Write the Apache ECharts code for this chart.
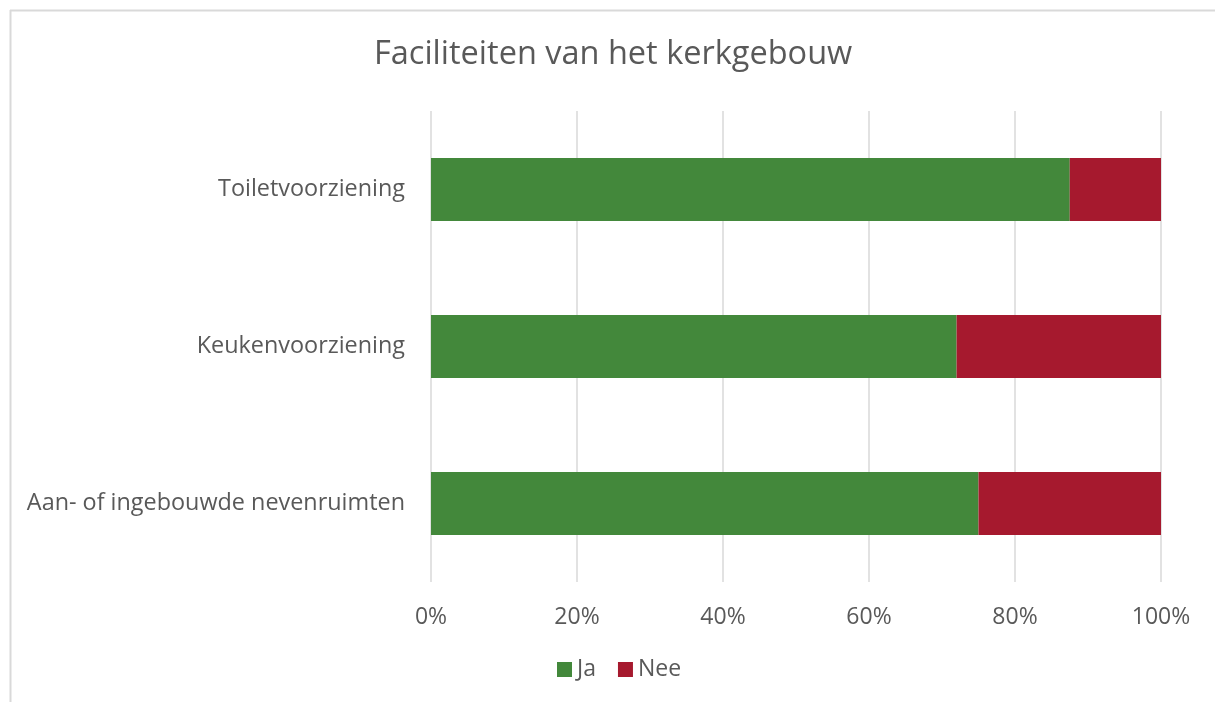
<!DOCTYPE html>
<html>
<head>
<meta charset="utf-8">
<script src="https://cdn.jsdelivr.net/npm/echarts@6/dist/echarts.min.js"></script>
<style>
  html, body { margin: 0; padding: 0; background: #fff; }
  #main { width: 1215px; height: 702px; }
</style>
</head>
<body>
<div id="main"></div>
<script>
const categories = ['Aan- of ingebouwde nevenruimten', 'Keukenvoorziening', 'Toiletvoorziening'];
const ja = [75, 72, 87.5];
const nee = [25, 28, 12.5];
const xTicks = [0, 20, 40, 60, 80, 100];

const myChart = echarts.init(document.getElementById('main'));
const font = 'Open Sans, Noto Sans, sans-serif';

const option = {
  backgroundColor: '#fff',
  textStyle: { fontFamily: font },
  title: {
    text: 'Faciliteiten van het kerkgebouw',
    left: 369,
    top: 33,
    textStyle: { fontSize: 32.5, fontWeight: 'normal', color: '#595959', fontFamily: font }
  },
  graphic: [
    { type: 'line', shape: { x1: 10, y1: 10.5, x2: 1215, y2: 10.5 }, style: { stroke: '#d9d9d9', lineWidth: 2 } },
    { type: 'line', shape: { x1: 10.5, y1: 10, x2: 10.5, y2: 702 }, style: { stroke: '#d9d9d9', lineWidth: 2 } }
  ],
  legend: {
    bottom: 16,
    left: 552,
    itemWidth: 15,
    itemHeight: 15,
    itemGap: 22,
    icon: 'rect',
    textStyle: { fontSize: 23, color: '#595959', fontFamily: font },
    data: ['Ja', 'Nee']
  },
  grid: { left: 431, right: 54, top: 111, bottom: 120, containLabel: false },
  xAxis: {
    type: 'value',
    min: 0,
    max: 100,
    interval: 20,
    axisLine: { show: false },
    axisTick: { show: false },
    axisLabel: {
      formatter: (v) => xTicks.includes(v) ? v + '%' : '',
      fontSize: 23,
      color: '#595959',
      margin: 24
    },
    splitLine: { lineStyle: { color: '#d9d9d9', width: 1.5 } }
  },
  yAxis: {
    type: 'category',
    data: categories,
    axisLine: { show: false },
    axisTick: { show: false },
    axisLabel: { fontSize: 23.4, color: '#595959', margin: 26 }
  },
  series: [
    {
      name: 'Ja',
      type: 'bar',
      stack: 'total',
      barWidth: '40%',
      itemStyle: { color: '#43883b' },
      data: ja
    },
    {
      name: 'Nee',
      type: 'bar',
      stack: 'total',
      itemStyle: { color: '#a6192e' },
      data: nee
    }
  ]
};

myChart.setOption(option);
</script>
</body>
</html>
